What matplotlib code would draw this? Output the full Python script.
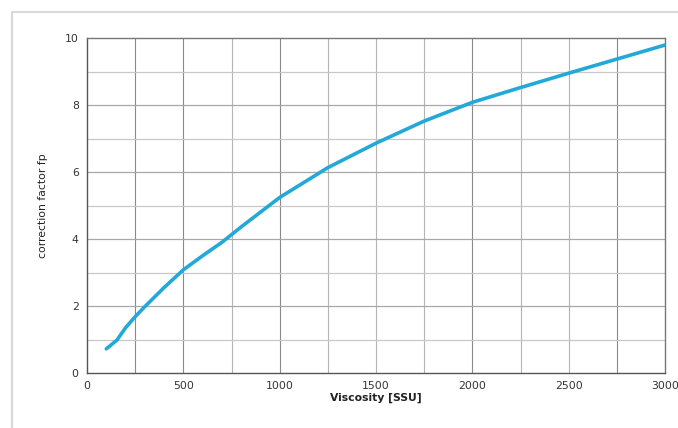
import matplotlib
matplotlib.use("Agg")
import matplotlib.pyplot as plt
from matplotlib.patches import Rectangle

viscosity = [100, 155, 200, 250, 300, 400, 500, 600, 700, 800, 900, 1000, 1250, 1500, 1750, 2000, 2250, 2500, 2750, 3000]
factor = [0.72, 0.98, 1.35, 1.68, 1.98, 2.55, 3.08, 3.50, 3.90, 4.36, 4.80, 5.24, 6.13, 6.86, 7.52, 8.08, 8.52, 8.95, 9.37, 9.79]

x_ticks = [0, 500, 1000, 1500, 2000, 2500, 3000]
y_ticks = [0, 2, 4, 6, 8, 10]

fig = plt.figure(figsize=(6.78, 4.28), dpi=100)
fig.patches.append(Rectangle((12/678, -0.1), 1.0, (428-12)/428 + 0.1, transform=fig.transFigure,
                             fill=False, edgecolor="#d9d9d9", linewidth=1.5))
ax = fig.add_axes([87/678, 55/428, 578/678, 335/428])

ax.set_xlim(0, 3000)
ax.set_ylim(0, 10)
for xv in range(250, 3000, 250):
    c = "#8a8a8a" if xv in (250, 500, 1000, 2000, 2750) else "#b5b5b5"
    ax.axvline(xv, color=c, linewidth=0.8, zorder=1)
for yv in range(1, 10):
    c = "#a8a8a8" if yv % 2 == 0 else "#c8c8c8"
    ax.axhline(yv, color=c, linewidth=0.9, zorder=1)

ax.plot(viscosity, factor, color="#22a9d8", linewidth=2.6, solid_capstyle="round",
        solid_joinstyle="round", zorder=3)

ax.set_xticks(x_ticks)
ax.set_yticks(y_ticks)
ax.tick_params(length=0, labelsize=7.8, labelcolor="#333333", pad=6)
for s in ["left", "bottom"]:
    ax.spines[s].set_color("#555555")
    ax.spines[s].set_linewidth(1.0)
for s in ["top", "right"]:
    ax.spines[s].set_color("#777777")
    ax.spines[s].set_linewidth(1.0)

ax.set_xlabel("Viscosity [SSU]", fontsize=7.8, fontweight="bold", color="#222222", labelpad=1)
ax.set_ylabel("correction factor fp", fontsize=7.8, color="#222222", labelpad=12)

fig.savefig("out.png", dpi=100)
